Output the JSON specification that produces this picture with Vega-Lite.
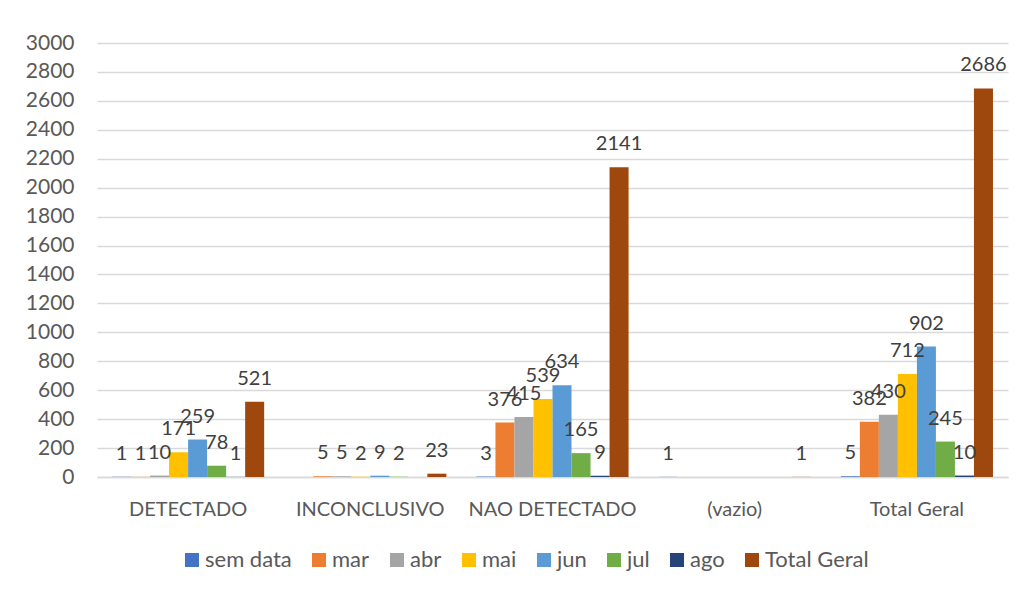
{
  "$schema": "https://vega.github.io/schema/vega-lite/v6.json",
  "width": 911,
  "height": 434,
  "autosize": {"type": "none"},
  "padding": {"left": 97, "top": 43, "right": 14, "bottom": 114},
  "background": "white",
  "config": {
    "font": "Lato",
    "view": {"stroke": null},
    "axis": {"labelFont": "Lato", "labelFontSize": 20, "labelColor": "#595959"}
  },
  "data": {
    "values": [
      {"cat": "DETECTADO", "series": "sem data", "value": 1},
      {"cat": "DETECTADO", "series": "mar", "value": 1},
      {"cat": "DETECTADO", "series": "abr", "value": 10},
      {"cat": "DETECTADO", "series": "mai", "value": 171},
      {"cat": "DETECTADO", "series": "jun", "value": 259},
      {"cat": "DETECTADO", "series": "jul", "value": 78},
      {"cat": "DETECTADO", "series": "ago", "value": 1},
      {"cat": "DETECTADO", "series": "Total Geral", "value": 521},
      {"cat": "INCONCLUSIVO", "series": "mar", "value": 5},
      {"cat": "INCONCLUSIVO", "series": "abr", "value": 5},
      {"cat": "INCONCLUSIVO", "series": "mai", "value": 2},
      {"cat": "INCONCLUSIVO", "series": "jun", "value": 9},
      {"cat": "INCONCLUSIVO", "series": "jul", "value": 2},
      {"cat": "INCONCLUSIVO", "series": "Total Geral", "value": 23},
      {"cat": "NAO DETECTADO", "series": "sem data", "value": 3},
      {"cat": "NAO DETECTADO", "series": "mar", "value": 376},
      {"cat": "NAO DETECTADO", "series": "abr", "value": 415},
      {"cat": "NAO DETECTADO", "series": "mai", "value": 539},
      {"cat": "NAO DETECTADO", "series": "jun", "value": 634},
      {"cat": "NAO DETECTADO", "series": "jul", "value": 165},
      {"cat": "NAO DETECTADO", "series": "ago", "value": 9},
      {"cat": "NAO DETECTADO", "series": "Total Geral", "value": 2141},
      {"cat": "(vazio)", "series": "sem data", "value": 1},
      {"cat": "(vazio)", "series": "Total Geral", "value": 1},
      {"cat": "Total Geral", "series": "sem data", "value": 5},
      {"cat": "Total Geral", "series": "mar", "value": 382},
      {"cat": "Total Geral", "series": "abr", "value": 430},
      {"cat": "Total Geral", "series": "mai", "value": 712},
      {"cat": "Total Geral", "series": "jun", "value": 902},
      {"cat": "Total Geral", "series": "jul", "value": 245},
      {"cat": "Total Geral", "series": "ago", "value": 10},
      {"cat": "Total Geral", "series": "Total Geral", "value": 2686}
    ]
  },
  "encoding": {
    "x": {
      "field": "cat", "type": "nominal",
      "sort": ["DETECTADO", "INCONCLUSIVO", "NAO DETECTADO", "(vazio)", "Total Geral"],
      "scale": {"paddingInner": 0.165, "paddingOuter": 0.0825},
      "axis": {"title": null, "labelAngle": 0, "ticks": false, "tickSize": 0, "labelPadding": 22, "domainColor": "#d9d9d9", "domainWidth": 1.3}
    },
    "xOffset": {
      "field": "series", "type": "nominal",
      "sort": ["sem data", "mar", "abr", "mai", "jun", "jul", "ago", "Total Geral"],
      "scale": {"domain": ["sem data", "mar", "abr", "mai", "jun", "jul", "ago", "Total Geral"], "paddingInner": 0, "paddingOuter": 0}
    },
    "y": {
      "field": "value", "type": "quantitative",
      "scale": {"domain": [0, 3000], "nice": false},
      "axis": {"title": null, "format": "d", "labelFontSize": 21, "values": [0,200,400,600,800,1000,1200,1400,1600,1800,2000,2200,2400,2600,2800,3000], "ticks": false, "tickSize": 0, "domain": false, "labelPadding": 23, "gridColor": "#d9d9d9", "gridWidth": 1.3}
    }
  },
  "layer": [
    {
      "mark": {"type": "bar"},
      "encoding": {
        "color": {
          "field": "series", "type": "nominal",
          "scale": {
            "domain": ["sem data", "mar", "abr", "mai", "jun", "jul", "ago", "Total Geral"],
            "range": ["#4472C4", "#ED7D31", "#A5A5A5", "#FFC000", "#5B9BD5", "#70AD47", "#264478", "#9E480E"]
          },
          "legend": {
            "title": null, "orient": "none", "legendX": 84, "legendY": 506,
            "direction": "horizontal",
            "symbolType": "square", "symbolSize": 196, "symbolStrokeWidth": 0,
            "labelFontSize": 22, "labelColor": "#595959", "labelFont": "Lato",
            "labelOffset": 2, "columnPadding": 16
          }
        }
      }
    },
    {
      "mark": {"type": "text", "baseline": "alphabetic", "dy": -17, "fontSize": 20, "color": "#404040", "font": "Lato"},
      "encoding": {"text": {"field": "value", "type": "quantitative"}}
    }
  ]
}
